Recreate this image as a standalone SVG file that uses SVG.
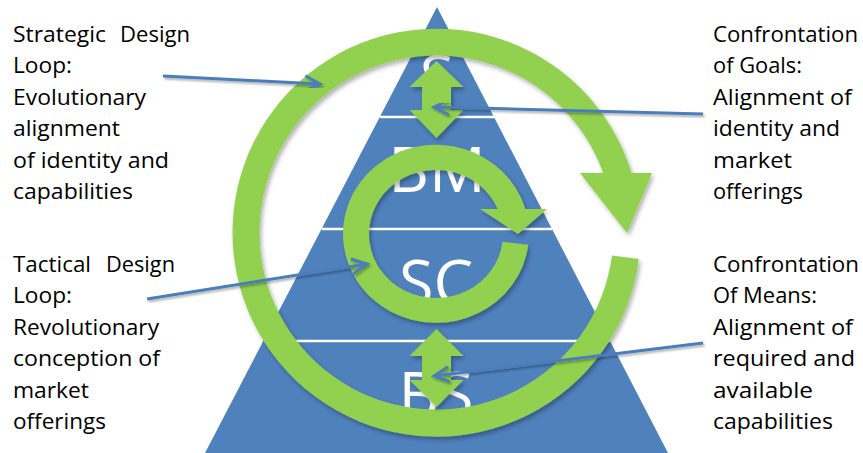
<svg xmlns="http://www.w3.org/2000/svg" width="863" height="453" viewBox="0 0 863 453">
<defs>
<style>
.lbl{font-family:"Open Sans","Noto Sans","Liberation Sans",sans-serif;font-size:22px;fill:#000}
.big{font-family:"Open Sans","Noto Sans","Liberation Sans",sans-serif;font-size:63px;fill:#fff;text-anchor:middle}
.grn{fill:#92D050;filter:url(#sh)}
.div{stroke:#fff;stroke-width:2.5}
.con{stroke:#4A7EBB;stroke-width:3;fill:none;marker-end:url(#ah);filter:url(#sh2)}
</style>
<filter id="sh" x="-10%" y="-10%" width="120%" height="120%">
<feDropShadow dx="2" dy="3" stdDeviation="2" flood-color="#000" flood-opacity="0.3"/>
</filter>
<filter id="sh2" x="-10%" y="-50%" width="120%" height="200%">
<feDropShadow dx="1.5" dy="2" stdDeviation="1.2" flood-color="#000" flood-opacity="0.3"/>
</filter>
<marker id="ah" markerUnits="userSpaceOnUse" markerWidth="24" markerHeight="24" viewBox="-20 -12 24 24" refX="0" refY="0" orient="auto">
<path d="M-15,-7.5 L0,0 L-15,7.5" fill="none" stroke="#4A7EBB" stroke-width="3" stroke-linejoin="miter"/>
</marker>
</defs>

<g id="pyramid">
<polygon points="437,7 668,453 205,453" fill="#4F81BD"/>
<line class="div" x1="380" y1="117" x2="494" y2="117"/>
<line class="div" x1="322" y1="229" x2="552" y2="229"/>
<line class="div" x1="264" y1="341" x2="610" y2="341"/>
<text class="big" x="437" y="100">S</text>
<text class="big" x="437" y="192">BM</text>
<text class="big" x="436" y="305">SC</text>
<text class="big" x="436" y="417">BS</text>
</g>

<g id="strategic-loop">
<path class="grn" d="M638.8,259.1 A204,204 0 1 1 631.6,173 L652,173 L627,233 L580,173 L603.2,173 A177,177 0 1 0 612,255.6 Z"/>
</g>

<g id="tactical-loop">
<path class="grn" d="M528.3,244.8 A93,89 0 1 1 525.3,209 L547,209 L518,234 L480,209 L497.7,209 A67,64 0 1 0 502.5,241.8 Z"/>
</g>

<g id="goals-arrow">
<polygon class="grn" points="436.5,61 463.5,87 451,87 451,110 463.5,110 436.5,138 409.5,110 422,110 422,87 409.5,87"/>
</g>

<g id="means-arrow">
<polygon class="grn" points="436.5,329 463.5,356 451,356 451,380 463.5,380 436.5,407 409.5,380 422,380 422,356 409.5,356"/>
</g>

<g id="connectors">
<line class="con" x1="163" y1="76" x2="320" y2="84"/>
<line class="con" x1="703" y1="114" x2="434" y2="107"/>
<line class="con" x1="147" y1="299" x2="367" y2="264"/>
<line class="con" x1="703" y1="343" x2="434" y2="376"/>
</g>

<g id="label-strategic">
<text class="lbl" y="42"><tspan x="13" textLength="93" lengthAdjust="spacingAndGlyphs">Strategic</tspan> <tspan x="120" textLength="70" lengthAdjust="spacingAndGlyphs">Design</tspan></text>
<text class="lbl" x="13" y="73" textLength="59" lengthAdjust="spacingAndGlyphs">Loop:</text>
<text class="lbl" x="13" y="105" textLength="133" lengthAdjust="spacingAndGlyphs">Evolutionary</text>
<text class="lbl" x="13" y="136" textLength="107" lengthAdjust="spacingAndGlyphs">alignment</text>
<text class="lbl" x="13" y="168" textLength="156" lengthAdjust="spacingAndGlyphs">of identity and</text>
<text class="lbl" x="13" y="199" textLength="120" lengthAdjust="spacingAndGlyphs">capabilities</text>
</g>

<g id="label-goals">
<text class="lbl" x="713" y="42" textLength="145" lengthAdjust="spacingAndGlyphs">Confrontation</text>
<text class="lbl" x="713" y="73" textLength="89" lengthAdjust="spacingAndGlyphs">of Goals:</text>
<text class="lbl" x="713" y="105" textLength="139" lengthAdjust="spacingAndGlyphs">Alignment of</text>
<text class="lbl" x="713" y="136" textLength="127" lengthAdjust="spacingAndGlyphs">identity and</text>
<text class="lbl" x="713" y="168" textLength="79" lengthAdjust="spacingAndGlyphs">market</text>
<text class="lbl" x="713" y="199" textLength="90" lengthAdjust="spacingAndGlyphs">offerings</text>
</g>

<g id="label-tactical">
<text class="lbl" y="272"><tspan x="13" textLength="78" lengthAdjust="spacingAndGlyphs">Tactical</tspan> <tspan x="106" textLength="69" lengthAdjust="spacingAndGlyphs">Design</tspan></text>
<text class="lbl" x="13" y="303" textLength="59" lengthAdjust="spacingAndGlyphs">Loop:</text>
<text class="lbl" x="13" y="335" textLength="146" lengthAdjust="spacingAndGlyphs">Revolutionary</text>
<text class="lbl" x="13" y="366" textLength="147" lengthAdjust="spacingAndGlyphs">conception of</text>
<text class="lbl" x="13" y="398" textLength="76" lengthAdjust="spacingAndGlyphs">market</text>
<text class="lbl" x="13" y="429" textLength="93" lengthAdjust="spacingAndGlyphs">offerings</text>
</g>

<g id="label-means">
<text class="lbl" x="713" y="272" textLength="146" lengthAdjust="spacingAndGlyphs">Confrontation</text>
<text class="lbl" x="713" y="303" textLength="104" lengthAdjust="spacingAndGlyphs">Of Means:</text>
<text class="lbl" x="713" y="335" textLength="140" lengthAdjust="spacingAndGlyphs">Alignment of</text>
<text class="lbl" x="713" y="366" textLength="142" lengthAdjust="spacingAndGlyphs">required and</text>
<text class="lbl" x="713" y="398" textLength="100" lengthAdjust="spacingAndGlyphs">available</text>
<text class="lbl" x="713" y="429" textLength="120" lengthAdjust="spacingAndGlyphs">capabilities</text>
</g>
</svg>
